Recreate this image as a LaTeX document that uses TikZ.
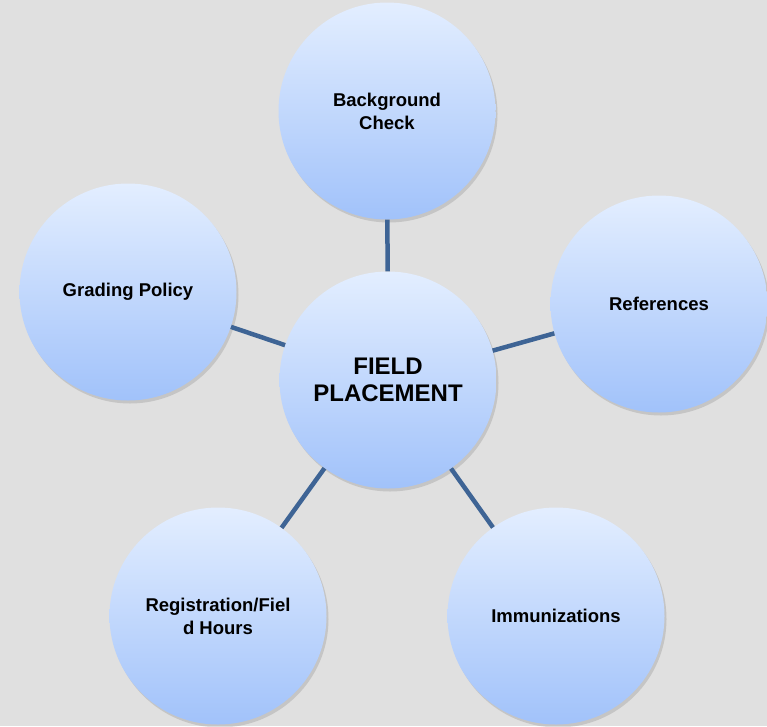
\documentclass[tikz,border=0pt]{standalone}
\usepackage{fontspec}
\setmainfont{Liberation Sans}
\usetikzlibrary{shadows}
\definecolor{bgcol}{HTML}{E0E0E0}
\definecolor{topcol}{HTML}{E3EEFF}
\definecolor{botcol}{HTML}{A1C2FA}
\definecolor{linkcol}{HTML}{3E6495}

\begin{document}
\begin{tikzpicture}[x=1pt, y=-1pt,
  main/.style = {circle, minimum size=217pt, inner sep=0pt, top color=topcol, bottom color=botcol, align=center,
    font=\bfseries\fontsize{18.5}{23}\selectfont,
    drop shadow={shadow xshift=2pt, shadow yshift=-3pt, opacity=0.22, fill=black!60}},
  link/.style = {draw=linkcol, line width=4.5pt}]
	\fill[bgcol] (0,0) rectangle (767,726);
	\useasboundingbox (0,0) rectangle (767,726);
	\node[main, font=\bfseries\fontsize{24}{27}\selectfont] (field) at (388,380) {FIELD\\PLACEMENT};
	\node[main] (check) at (387,111) {Background\\Check};
	\node[main] (refs) at (659,304) {References};
	\node[main] (grading) at (128,292) {Grading Policy};
	\node[main] (hours) at (218,616) {Registration/Fiel\\d Hours};
	\node[main] (immun) at (556,616) {Immunizations};
	% connectors to the centre
	\draw[link] (field) -- (check);
	\draw[link] (field) -- (refs);
	\draw[link] (field) -- (grading);
	\draw[link] (field) -- (hours);
	\draw[link] (field) -- (immun);
\end{tikzpicture}
\end{document}
